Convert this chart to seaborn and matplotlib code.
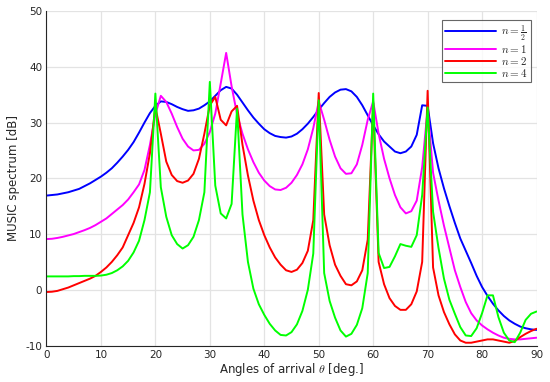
import numpy as np
import pandas as pd
import matplotlib
matplotlib.use("Agg")
import matplotlib.pyplot as plt
import seaborn as sns

angles = list(range(0, 91))

blue_half = [16.9, 17.0, 17.1, 17.3, 17.5, 17.8, 18.1, 18.6, 19.1, 19.7,
             20.3, 21.0, 21.8, 22.8, 23.9, 25.1, 26.5, 28.2, 30.0, 31.7,
             33.0, 33.8, 33.7, 33.3, 32.8, 32.4, 32.1, 32.2, 32.5, 33.1,
             33.8, 34.8, 35.8, 36.4, 36.1, 35.0, 33.6, 32.2, 30.9, 29.8,
             28.8, 28.1, 27.6, 27.4, 27.3, 27.5, 28.0, 28.8, 29.8, 31.0,
             32.3, 33.5, 34.6, 35.4, 35.9, 36.0, 35.6, 34.6, 33.1, 31.3,
             29.5, 27.9, 26.6, 25.7, 24.8, 24.5, 24.8, 25.7, 27.8, 33.1,
             33.0, 26.3, 21.8, 18.2, 15.0, 12.0, 9.2, 7.0, 4.8, 2.5,
             0.5, -1.1, -2.5, -3.7, -4.7, -5.5, -6.1, -6.6, -6.9, -7.1, -7.2]

magenta_1 = [9.1, 9.15, 9.3, 9.5, 9.75, 10.0, 10.35, 10.7, 11.1, 11.6,
             12.2, 12.8, 13.6, 14.4, 15.2, 16.2, 17.5, 18.9, 21.5, 26.0,
             31.5, 34.8, 33.7, 31.6, 29.2, 27.1, 25.7, 25.0, 25.1, 26.2,
             28.3, 31.6, 37.0, 42.5, 36.5, 31.5, 28.0, 25.2, 22.9, 21.0,
             19.6, 18.6, 18.0, 17.9, 18.3, 19.2, 20.6, 22.5, 25.2, 29.0,
             33.8, 30.5, 26.9, 23.9, 21.8, 20.8, 20.9, 22.5, 26.0, 30.5,
             33.8, 28.0, 23.5, 20.0, 17.0, 14.8, 13.7, 14.1, 16.0, 22.0,
             32.5, 21.0, 16.0, 11.5, 7.5, 3.5, 0.5, -2.2, -4.2, -5.5,
             -6.4, -7.1, -7.7, -8.2, -8.6, -8.8, -8.9, -8.9, -8.8, -8.7, -8.6]

red_2 = [-0.4, -0.35, -0.2, 0.1, 0.4, 0.8, 1.2, 1.6, 2.0, 2.5,
         3.2, 4.0, 5.0, 6.2, 7.6, 9.8, 12.0, 14.8, 19.0, 24.5,
         32.8, 28.0, 23.0, 20.6, 19.5, 19.2, 19.6, 20.8, 23.5, 28.0,
         33.1, 34.6, 30.5, 29.5, 32.0, 33.0, 26.0, 20.5, 16.0, 12.5,
         9.8, 7.6, 5.8, 4.5, 3.5, 3.2, 3.6, 4.8, 7.0, 12.5,
         35.3, 13.5, 8.0, 4.5, 2.5, 1.0, 0.8, 1.5, 3.5, 9.0,
         33.5, 5.0, 1.0, -1.5, -2.9, -3.6, -3.6, -2.6, -0.3, 5.0,
         35.7, 4.0, -1.0, -4.0, -6.2, -8.0, -9.1, -9.5, -9.5, -9.3,
         -9.1, -8.9, -8.9, -9.1, -9.3, -9.5, -9.2, -8.5, -7.9, -7.4, -7.0]

green_4 = [2.4, 2.4, 2.4, 2.4, 2.4, 2.45, 2.45, 2.5, 2.5, 2.5,
           2.55, 2.7, 3.0, 3.5, 4.2, 5.2, 6.7, 8.8, 12.5, 17.5,
           35.2, 18.4, 13.1, 9.8, 8.2, 7.4, 8.0, 9.5, 12.5, 17.5,
           37.3, 18.7, 13.7, 12.8, 15.4, 32.5, 13.5, 5.0, 0.2, -2.6,
           -4.5, -6.1, -7.3, -8.1, -8.2, -7.6, -6.2, -3.8, 0.0, 6.5,
           34.0, 3.0, -2.0, -5.0, -7.3, -8.4, -7.9, -6.3, -3.3, 3.0,
           35.2, 6.6, 3.9, 4.1, 6.0, 8.2, 7.9, 7.7, 9.8, 17.0,
           32.7, 14.0, 7.5, 2.0, -1.8, -4.3, -6.7, -8.2, -8.3, -6.9,
           -4.2, -1.0, -1.0, -4.9, -7.7, -9.1, -9.4, -7.7, -5.4, -4.3, -3.9]

series_labels = [r"$n=\frac{1}{2}$", r"$n=1$", r"$n=2$", r"$n=4$"]
series_colors = ["#0000ff", "#ff00ff", "#ff0000", "#00ff00"]
x_ticks = [0, 10, 20, 30, 40, 50, 60, 70, 80, 90]
y_ticks = [-10, 0, 10, 20, 30, 40, 50]

frames = []
for lab, vals in zip(series_labels, [blue_half, magenta_1, red_2, green_4]):
    frames.append(pd.DataFrame({"angle": angles, "dB": vals, "series": lab}))
df = pd.concat(frames, ignore_index=True)

sns.set_style("white")
plt.rcParams["font.family"] = ["DejaVu Sans"]
plt.rcParams["mathtext.fontset"] = "cm"

fig = plt.figure(figsize=(5.5, 3.82), dpi=100)
ax = fig.add_axes([0.0845, 0.0955, 0.891, 0.8755])

sns.lineplot(data=df, x="angle", y="dB", hue="series",
             palette=dict(zip(series_labels, series_colors)),
             hue_order=series_labels, linewidth=1.4, ax=ax, legend=True)

ax.set_xlim(0, 90)
ax.set_ylim(-10, 50)
ax.set_xticks(x_ticks)
ax.set_yticks(y_ticks)
ax.set_xticklabels([str(t) for t in x_ticks], fontsize=7.5)
ax.set_yticklabels([str(t) for t in y_ticks], fontsize=7.5)
ax.grid(True, color="#e3e3e3", linewidth=0.9)
ax.set_axisbelow(True)
ax.tick_params(axis="both", direction="in", length=3, width=0.8,
               colors="#262626", pad=3)
for s in ["top", "right"]:
    ax.spines[s].set_visible(False)
for s in ["left", "bottom"]:
    ax.spines[s].set_color("#262626")
    ax.spines[s].set_linewidth(0.8)

ax.set_xlabel(r"Angles of arrival $\theta$ [deg.]", fontsize=8.5, labelpad=1)
ax.set_ylabel("MUSIC spectrum [dB]", fontsize=8.5, labelpad=4)

leg = ax.legend(loc="upper right", fontsize=8, frameon=True, fancybox=False,
                handlelength=4.6, handletextpad=0.4, borderpad=0.3,
                labelspacing=0.0, borderaxespad=0.0,
                bbox_to_anchor=(0.988, 0.974))
leg.get_frame().set_edgecolor("#404040")
leg.get_frame().set_linewidth(0.8)
for t in leg.get_texts():
    t.set_ha("right")
leg._legend_box.align = "right"

fig.savefig("out.png", dpi=100)
